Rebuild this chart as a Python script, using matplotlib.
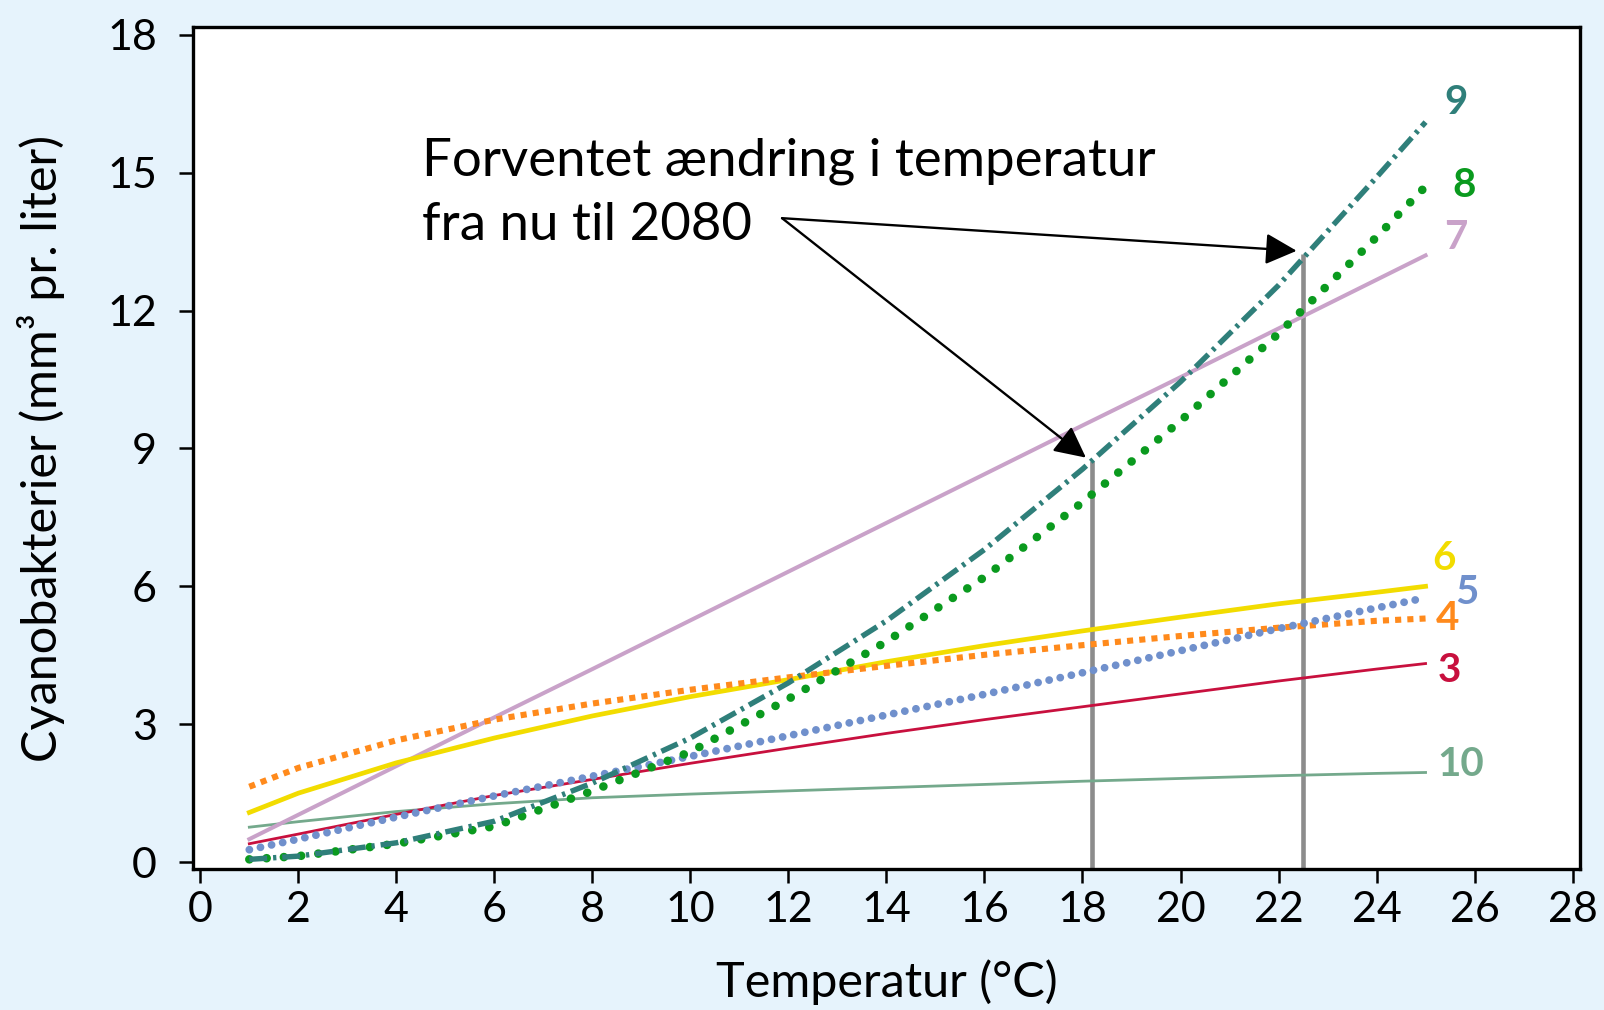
import matplotlib
matplotlib.use("Agg")
import matplotlib.pyplot as plt

plt.rcParams['font.family'] = ['Lato', 'DejaVu Sans']

# temperature (°C) and cyanobacteria volume (mm3 per liter) for each model curve
temp = [1, 2, 4, 6, 8, 10, 12, 14, 16, 18, 20, 22, 24, 25]

curve_3 = [0.40, 0.61, 1.04, 1.45, 1.80, 2.15, 2.48, 2.80, 3.10, 3.38, 3.66, 3.94, 4.20, 4.32]
curve_4 = [1.64, 2.05, 2.65, 3.10, 3.45, 3.75, 4.02, 4.27, 4.51, 4.72, 4.92, 5.10, 5.25, 5.30]
curve_5 = [0.27, 0.50, 0.98, 1.44, 1.87, 2.30, 2.75, 3.20, 3.65, 4.12, 4.60, 5.08, 5.53, 5.75]
curve_6 = [1.08, 1.50, 2.16, 2.70, 3.18, 3.60, 3.97, 4.36, 4.71, 5.03, 5.33, 5.62, 5.87, 6.00]
curve_7 = [0.50, 1.03, 2.09, 3.15, 4.20, 5.26, 6.32, 7.38, 8.44, 9.50, 10.55, 11.61, 12.67, 13.20]
curve_8 = [0.06, 0.13, 0.40, 0.78, 1.55, 2.40, 3.55, 4.80, 6.20, 7.83, 9.60, 11.50, 13.60, 14.70]
curve_9 = [0.06, 0.13, 0.42, 0.89, 1.72, 2.70, 3.90, 5.25, 6.80, 8.55, 10.45, 12.55, 14.90, 16.10]
curve_10 = [0.76, 0.88, 1.10, 1.27, 1.40, 1.48, 1.55, 1.62, 1.69, 1.76, 1.82, 1.88, 1.93, 1.95]

# expected temperature now and in 2080, with curve 9 at those temperatures
change_temp = [18.2, 22.5]
change_top = [8.73, 13.23]

series_names = ['3', '4', '5', '6', '7', '8', '9', '10']

BG = '#e6f3fc'

fig = plt.figure(figsize=(16.04, 10.10), dpi=100, facecolor=BG)
ax = fig.add_axes([0.1203, 0.1396, 0.8647, 0.8337])
ax.set_facecolor('white')

styles = {
    '3':  dict(color='#c8103e', lw=2.0, ls='-'),
    '4':  dict(color='#ff8a1c', lw=4.4, ls=(0, (1.0, 1.0)), dash_capstyle='butt'),
    '5':  dict(color='#7090cc', lw=5.6, ls=(0, (0.01, 1.45)), dash_capstyle='round'),
    '6':  dict(color='#f2dc00', lw=3.4, ls='-'),
    '7':  dict(color='#c9a2c9', lw=2.9, ls='-'),
    '8':  dict(color='#0a9a1e', lw=6.2, ls=(0, (0.01, 2.0)), dash_capstyle='round'),
    '9':  dict(color='#2f7f7a', lw=3.9, ls=(0, (3.3, 1.1, 0.6, 1.1))),
    '10': dict(color='#74a98c', lw=2.0, ls='-'),
}
label_offsets = {
    '3': (17, -5), '4': (16, 0), '5': (30, 4), '6': (13, 20),
    '7': (22, 13), '8': (28, 1), '9': (22, 14), '10': (25, 6),
}

curves = dict(zip(series_names, [curve_3, curve_4, curve_5, curve_6,
                                 curve_7, curve_8, curve_9, curve_10]))

# vertical markers for the two temperatures
ax.vlines(change_temp, -0.15, change_top, color='#8c8c8c', lw=3.3, zorder=2)

draw_order = ['10', '7', '6', '4', '3', '5', '8', '9']
for name in draw_order:
    vals = curves[name]
    st = styles[name]
    ax.plot(temp, vals, zorder=3, **st)
    ax.annotate(name, (temp[-1], vals[-1]), xytext=label_offsets[name],
                textcoords='offset points', ha='center', va='center',
                fontsize=29, fontweight='bold', color=st['color'])

# annotation with two arrows
ax.text(4.53, 13.53, 'Forventet ændring i temperatur\nfra nu til 2080',
        fontsize=38, ha='left', va='baseline', linespacing=1.45)
for tx, ty in zip(change_temp, change_top):
    ax.annotate('', xy=(tx - 0.13, ty + 0.07), xytext=(11.87, 14.01),
                arrowprops=dict(arrowstyle='-|>', color='black', lw=1.7,
                                mutation_scale=48, shrinkA=0, shrinkB=0),
                zorder=5)

ax.set_xlim(-0.15, 28.15)
ax.set_ylim(-0.15, 18.17)
ax.set_xticks(range(0, 29, 2))
ax.set_yticks(range(0, 19, 3))

for sp in ax.spines.values():
    sp.set_linewidth(2.4)
ax.tick_params(axis='both', direction='out', length=10, width=1.8,
               labelsize=31, top=False, right=False)
ax.tick_params(axis='y', pad=16)
ax.tick_params(axis='x', pad=6)

ax.set_xlabel('Temperatur (°C)', fontsize=35, va='center')
ax.set_ylabel('Cyanobakterier (mm³ pr. liter)', fontsize=35, va='center')
ax.xaxis.set_label_coords(0.5, -0.134)
ax.yaxis.set_label_coords(-0.1096, 0.5)

fig.savefig('out.png', dpi=100, facecolor=BG)
